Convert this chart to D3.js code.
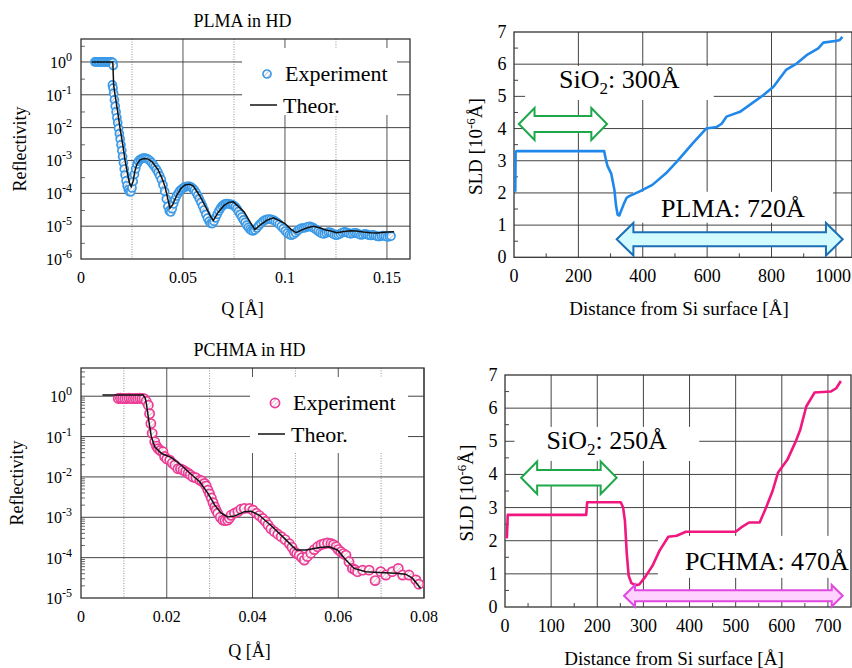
<!DOCTYPE html>
<html>
<head>
<meta charset="utf-8">
<script src="https://cdn.jsdelivr.net/npm/d3@7"></script>
<style>
  body { margin: 0; background: #fff; }
  svg { display: block; font-family: "Liberation Serif", "Times New Roman", serif; }
</style>
</head>
<body>
<script>
// Reflectivity curves (PLMA / PCHMA in HD) and the fitted SLD profiles

// ---- PLMA reflectivity ----
var plmaTheoQ = [0.0052, 0.0156, 0.0160, 0.0167, 0.0180, 0.0191, 0.0205, 0.0216, 0.0228, 0.0238,
  0.0246, 0.0255, 0.0265, 0.0275, 0.0290, 0.0310, 0.0330, 0.0350, 0.0379, 0.0400,
  0.0412, 0.0425, 0.0436, 0.0450, 0.0470, 0.0490, 0.0510, 0.0531, 0.0550, 0.0580,
  0.0610, 0.0635, 0.0649, 0.0670, 0.0700, 0.0725, 0.0747, 0.0775, 0.0800, 0.0830,
  0.0853, 0.0880, 0.0910, 0.0943, 0.0970, 0.1000, 0.1030, 0.1055, 0.1080, 0.1110,
  0.1139, 0.1170, 0.1200, 0.1225, 0.1253, 0.1290, 0.1320, 0.1350, 0.1384, 0.1420,
  0.1450, 0.1500, 0.1535];
var plmaTheoR = [1.0, 1.0, 0.2, 0.1, 0.03, 0.01, 3.0e-3, 1.0e-3, 4.0e-4, 2.0e-4,
  1.6e-4, 2.3e-4, 5.0e-4, 7.9e-4, 1.05e-3, 1.15e-3, 1.1e-3, 8.9e-4, 5.1e-4, 2.6e-4,
  1.6e-4, 7.0e-5, 3.5e-5, 4.6e-5, 8.9e-5, 1.4e-4, 1.8e-4, 1.9e-4, 1.7e-4, 8.9e-5,
  4.0e-5, 2.0e-5, 1.5e-5, 2.5e-5, 4.2e-5, 5.3e-5, 5.5e-5, 3.8e-5, 2.7e-5, 1.3e-5,
  7.9e-6, 1.1e-5, 1.5e-5, 1.8e-5, 1.5e-5, 1.2e-5, 8.0e-6, 6.3e-6, 7.6e-6, 8.9e-6,
  1.0e-5, 8.9e-6, 7.6e-6, 7.1e-6, 6.3e-6, 6.9e-6, 7.2e-6, 7.1e-6, 6.6e-6, 6.3e-6,
  6.2e-6, 6.6e-6, 6.8e-6];

var plmaExpQ = [0.0068, 0.0075, 0.0083, 0.0090, 0.0098, 0.0105, 0.0113, 0.0120, 0.0128, 0.0135,
  0.0143, 0.0150, 0.0156, 0.0158, 0.0154, 0.0157, 0.0160, 0.0164, 0.0168, 0.0172,
  0.0176, 0.0180, 0.0184, 0.0188, 0.0192, 0.0196, 0.0200, 0.0204, 0.0208, 0.0212,
  0.0216, 0.0221, 0.0226, 0.0232, 0.0238, 0.0244, 0.0250, 0.0256, 0.0262, 0.0268,
  0.0275, 0.0282, 0.0290, 0.0298, 0.0306, 0.0314, 0.0322, 0.0330, 0.0338, 0.0346,
  0.0354, 0.0362, 0.0370, 0.0378, 0.0386, 0.0394, 0.0402, 0.0410, 0.0418, 0.0426,
  0.0433, 0.0440, 0.0447, 0.0454, 0.0461, 0.0468, 0.0476, 0.0484, 0.0492, 0.0500,
  0.0508, 0.0516, 0.0524, 0.0532, 0.0540, 0.0548, 0.0556, 0.0564, 0.0572, 0.0580,
  0.0588, 0.0596, 0.0604, 0.0612, 0.0620, 0.0628, 0.0636, 0.0644, 0.0652, 0.0660,
  0.0668, 0.0676, 0.0684, 0.0692, 0.0700, 0.0708, 0.0716, 0.0724, 0.0732, 0.0740,
  0.0748, 0.0756, 0.0764, 0.0772, 0.0780, 0.0788, 0.0796, 0.0804, 0.0812, 0.0820,
  0.0828, 0.0836, 0.0844, 0.0852, 0.0862, 0.0872, 0.0882, 0.0892, 0.0902, 0.0912,
  0.0922, 0.0932, 0.0942, 0.0952, 0.0962, 0.0972, 0.0982, 0.0992, 0.1002, 0.1012,
  0.1022, 0.1032, 0.1042, 0.1052, 0.1062, 0.1072, 0.1082, 0.1092, 0.1102, 0.1112,
  0.1122, 0.1132, 0.1142, 0.1152, 0.1162, 0.1172, 0.1182, 0.1192, 0.1202, 0.1212,
  0.1222, 0.1232, 0.1242, 0.1252, 0.1262, 0.1272, 0.1282, 0.1292, 0.1302, 0.1312,
  0.1322, 0.1332, 0.1342, 0.1352, 0.1362, 0.1372, 0.1382, 0.1392, 0.1402, 0.1412,
  0.1422, 0.1432, 0.1442, 0.1452, 0.1462, 0.1472, 0.1482, 0.1492, 0.1502, 0.1512,
  0.1520];
var plmaExpR = [1.0, 1.0, 1.0, 1.0, 1.0, 1.0, 1.0, 1.0, 1.0, 1.0,
  1.0, 1.0, 0.95, 0.78, 0.2, 0.16, 0.11, 0.07, 0.045, 0.03,
  0.02, 0.014, 9.5e-3, 6.5e-3, 4.5e-3, 3.0e-3, 2.0e-3, 1.3e-3, 8.5e-4, 5.5e-4,
  3.6e-4, 2.4e-4, 1.7e-4, 1.3e-4, 1.12e-4, 1.12e-4, 1.45e-4, 2.3e-4, 3.8e-4, 5.6e-4,
  7.8e-4, 9.5e-4, 1.07e-3, 1.14e-3, 1.18e-3, 1.18e-3, 1.14e-3, 1.08e-3, 9.8e-4, 8.6e-4,
  7.4e-4, 6.3e-4, 5.3e-4, 4.3e-4, 3.4e-4, 2.6e-4, 1.8e-4, 1.15e-4, 6.8e-5, 4.0e-5,
  2.9e-5, 2.7e-5, 3.4e-5, 4.8e-5, 6.5e-5, 8.3e-5, 1.0e-4, 1.18e-4, 1.32e-4, 1.44e-4,
  1.54e-4, 1.6e-4, 1.63e-4, 1.62e-4, 1.55e-4, 1.42e-4, 1.25e-4, 1.05e-4, 8.5e-5, 6.8e-5,
  5.3e-5, 4.1e-5, 3.1e-5, 2.3e-5, 1.75e-5, 1.4e-5, 1.22e-5, 1.2e-5, 1.4e-5, 1.8e-5,
  2.3e-5, 2.9e-5, 3.5e-5, 4.1e-5, 4.5e-5, 4.8e-5, 4.9e-5, 4.8e-5, 4.6e-5, 4.5e-5,
  4.3e-5, 3.9e-5, 3.4e-5, 2.8e-5, 2.3e-5, 1.9e-5, 1.55e-5, 1.3e-5, 1.08e-5, 9.2e-6,
  8.0e-6, 7.3e-6, 7.2e-6, 7.7e-6, 8.8e-6, 1.05e-5, 1.22e-5, 1.4e-5, 1.54e-5, 1.62e-5,
  1.65e-5, 1.62e-5, 1.54e-5, 1.42e-5, 1.28e-5, 1.13e-5, 9.8e-6, 8.4e-6, 7.1e-6, 6.1e-6,
  5.5e-6, 5.3e-6, 5.6e-6, 6.3e-6, 7.2e-6, 8.1e-6, 8.7e-6, 8.8e-6, 9.1e-6, 9.6e-6,
  9.8e-6, 9.4e-6, 8.7e-6, 7.9e-6, 7.1e-6, 6.4e-6, 5.9e-6, 5.8e-6, 6.2e-6, 6.6e-6,
  6.5e-6, 6.0e-6, 5.5e-6, 5.3e-6, 5.5e-6, 5.9e-6, 6.4e-6, 6.7e-6, 6.5e-6, 6.1e-6,
  5.8e-6, 6.0e-6, 6.3e-6, 6.1e-6, 5.7e-6, 5.4e-6, 5.5e-6, 5.8e-6, 5.6e-6, 5.3e-6,
  5.2e-6, 5.4e-6, 5.2e-6, 4.9e-6, 4.8e-6, 5.0e-6, 5.2e-6, 4.9e-6, 4.7e-6, 4.8e-6,
  5.0e-6];

// ---- PCHMA reflectivity ----
var pchmaTheoQ = [0.0050, 0.0145, 0.0150, 0.0153, 0.0158, 0.0164, 0.0172, 0.0188, 0.0211, 0.0234,
  0.0254, 0.0277, 0.0296, 0.0312, 0.0327, 0.0342, 0.0358, 0.0381, 0.0397, 0.0416,
  0.0447, 0.0478, 0.0502, 0.0525, 0.0556, 0.0579, 0.0598, 0.0618, 0.0637, 0.0664,
  0.0695, 0.0734, 0.0757, 0.0773, 0.0792];
var pchmaTheoR = [1.07, 1.07, 0.89, 0.6, 0.25, 0.1, 0.056, 0.038, 0.03, 0.0195,
  0.0123, 7.6e-3, 3.9e-3, 2.0e-3, 1.26e-3, 1.02e-3, 1.07e-3, 1.38e-3, 1.41e-3, 1.12e-3,
  5.75e-4, 2.75e-4, 1.55e-4, 1.55e-4, 1.78e-4, 1.86e-4, 1.55e-4, 8.7e-5, 5.4e-5, 4.5e-5,
  4.3e-5, 4.1e-5, 3.9e-5, 3.1e-5, 1.74e-5];

var pchmaExpQ = [0.0087, 0.0092, 0.0097, 0.0102, 0.0107, 0.0112, 0.0117, 0.0122, 0.0127, 0.0132,
  0.0137, 0.0142, 0.0147, 0.0152, 0.0157, 0.0160, 0.0163, 0.0166, 0.0172, 0.0176,
  0.0180, 0.0185, 0.0191, 0.0195, 0.0200, 0.0207, 0.0213, 0.0219, 0.0226, 0.0232,
  0.0238, 0.0244, 0.0250, 0.0255, 0.0261, 0.0268, 0.0277, 0.0282, 0.0288, 0.0292,
  0.0296, 0.0300, 0.0304, 0.0308, 0.0312, 0.0315, 0.0319, 0.0325, 0.0331, 0.0336,
  0.0342, 0.0346, 0.0350, 0.0358, 0.0366, 0.0373, 0.0381, 0.0393, 0.0401, 0.0409,
  0.0416, 0.0424, 0.0430, 0.0436, 0.0443, 0.0451, 0.0459, 0.0467, 0.0476, 0.0486,
  0.0492, 0.0498, 0.0503, 0.0509, 0.0515, 0.0521, 0.0528, 0.0536, 0.0544, 0.0552,
  0.0560, 0.0567, 0.0575, 0.0583, 0.0589, 0.0595, 0.0600, 0.0606, 0.0612, 0.0618,
  0.0625, 0.0633, 0.0639, 0.0645, 0.0657, 0.0672, 0.0686, 0.0699, 0.0711, 0.0726,
  0.0740, 0.0750, 0.0765, 0.0781, 0.0788];
var pchmaExpR = [0.88, 0.89, 0.88, 0.87, 0.88, 0.89, 0.88, 0.87, 0.88, 0.88,
  0.89, 0.88, 0.87, 0.75, 0.6, 0.37, 0.21, 0.12, 0.074, 0.058,
  0.05, 0.045, 0.042, 0.032, 0.028, 0.026, 0.022, 0.0195, 0.016, 0.0158,
  0.0148, 0.0135, 0.0123, 0.0112, 0.010, 9.5e-3, 8.3e-3, 7.9e-3, 6.9e-3, 6.0e-3,
  4.7e-3, 3.8e-3, 3.0e-3, 2.3e-3, 1.8e-3, 1.5e-3, 1.26e-3, 1.0e-3, 8.5e-4, 8.3e-4,
  8.5e-4, 9.5e-4, 1.12e-3, 1.26e-3, 1.38e-3, 1.58e-3, 1.66e-3, 1.66e-3, 1.5e-3, 1.26e-3,
  1.1e-3, 9.3e-4, 7.9e-4, 6.5e-4, 5.2e-4, 4.4e-4, 3.8e-4, 3.3e-4, 2.8e-4, 2.2e-4,
  1.8e-4, 1.4e-4, 1.26e-4, 1.15e-4, 1.0e-4, 8.7e-5, 1.07e-4, 1.29e-4, 1.58e-4, 1.86e-4,
  2.1e-4, 2.2e-4, 2.3e-4, 2.24e-4, 2.1e-4, 1.86e-4, 1.58e-4, 1.4e-4, 1.26e-4, 1.15e-4,
  7.9e-5, 5.4e-5, 5.0e-5, 4.5e-5, 4.9e-5, 4.9e-5, 2.7e-5, 4.5e-5, 3.7e-5, 4.5e-5,
  5.4e-5, 3.7e-5, 3.7e-5, 2.8e-5, 2.2e-5];

// ---- SLD profiles (distance [A], SLD [1e-6 A^-2]) ----
var plmaSldZ = [4, 5, 8, 280, 284, 290, 302, 312, 317, 322,
  327, 333, 342, 350, 358, 389, 430, 472, 506, 555,
  597, 630, 645, 660, 702, 775, 806, 845, 878, 909,
  945, 961, 1003, 1012, 1020];
var plmaSldV = [2.04, 3.28, 3.3, 3.3, 3.1, 2.85, 2.6, 2.09, 1.6, 1.32,
  1.3, 1.45, 1.68, 1.85, 1.9, 2.04, 2.25, 2.61, 2.97, 3.54,
  4.0, 4.05, 4.15, 4.37, 4.52, 5.04, 5.3, 5.82, 6.02, 6.28,
  6.49, 6.67, 6.73, 6.75, 6.85];

var pchmaSldZ = [4, 6, 176, 178, 251, 256, 260, 264, 268, 274,
  283, 291, 304, 320, 335, 354, 372, 392, 500, 512,
  529, 552, 566, 580, 592, 612, 630, 640, 653, 671,
  706, 718, 728];
var pchmaSldV = [2.07, 2.78, 2.78, 3.16, 3.16, 3.0, 2.6, 1.6, 0.95, 0.72,
  0.66, 0.68, 0.91, 1.25, 1.7, 2.12, 2.15, 2.27, 2.27, 2.4,
  2.55, 2.55, 3.0, 3.5, 4.06, 4.44, 4.99, 5.35, 6.05, 6.47,
  6.5, 6.6, 6.82];

// ---- ticks ----
var plmaQTicks = [0, 0.05, 0.1, 0.15];
var plmaQLabels = ["0", "0.05", "0.1", "0.15"];
var plmaQMinor = [0.025, 0.075, 0.125];
var plmaDecades = [0, -1, -2, -3, -4, -5, -6];

var pchmaQTicks = [0, 0.02, 0.04, 0.06, 0.08];
var pchmaQLabels = ["0", "0.02", "0.04", "0.06", "0.08"];
var pchmaQMinor = [0.01, 0.03, 0.05, 0.07];
var pchmaDecades = [0, -1, -2, -3, -4, -5];

var sldTicks = [0, 1, 2, 3, 4, 5, 6, 7];
var sldMinor = [0.5, 1.5, 2.5, 3.5, 4.5, 5.5, 6.5];
var plmaZTicks = [0, 200, 400, 600, 800, 1000];
var plmaZMinor = [100, 300, 500, 700, 900];
var pchmaZTicks = [0, 100, 200, 300, 400, 500, 600, 700];
var pchmaZMinor = [50, 150, 250, 350, 450, 550, 650];

// ---- annotations (data units) ----
var plmaLayers = [
  {label: "SiO2", thick: "300Å", tx: 140, ty: 5.26, x1: 15, x2: 289, y: 4.14, kind: "oxide"},
  {label: "PLMA", thick: "720Å", tx: 457, ty: 1.26, x1: 319, x2: 1021, y: 0.56, kind: "polymer"}
];
var pchmaLayers = [
  {label: "SiO2", thick: "250Å", tx: 90, ty: 4.77, x1: 35, x2: 242, y: 3.9, kind: "oxide"},
  {label: "PCHMA", thick: "470Å", tx: 390, ty: 1.12, x1: 258, x2: 732, y: 0.34, kind: "polymer"}
];


var svg = d3.select('body').append('svg')
  .attr('width', 852)
  .attr('height', 668);
var defs = svg.append('defs');

function hatch(id, color) {
  var p = defs.append('pattern')
    .attr('id', id)
    .attr('patternUnits', 'userSpaceOnUse')
    .attr('width', 3).attr('height', 3)
    .attr('patternTransform', 'rotate(45)');
  p.append('rect').attr('width', 3).attr('height', 3).attr('fill', '#fff');
  p.append('line').attr('x1', 0).attr('y1', 0).attr('x2', 0).attr('y2', 3)
    .attr('stroke', color).attr('stroke-width', 1.5);
}
hatch('hatchBlue', '#a9b3bd');
hatch('hatchPink', '#d6a9bd');

function sup(sel, base, exp, size) {
  sel.append('tspan').text(base);
  sel.append('tspan').attr('dy', -7).style('font-size', size).text(exp);
  return sel;
}


var ReflPanel = function(o) {
  var x = d3.scaleLinear().domain(o.xDomain).range([o.left, o.right]);
  var y = d3.scaleLog().domain(o.yDomain).range([o.bottom, o.top]);
  var g = svg.append('g');

  g.selectAll('line.xminor').data(o.xMinor).enter().append('line')
    .attr('x1', function(d) { return x(d); })
    .attr('x2', function(d) { return x(d); })
    .attr('y1', o.top).attr('y2', o.bottom)
    .attr('stroke', '#777').attr('stroke-width', 0.8)
    .attr('stroke-dasharray', '1,1.5');

  g.selectAll('line.xgrid').data(o.xTicks.slice(1)).enter().append('line')
    .attr('x1', function(d) { return x(d); })
    .attr('x2', function(d) { return x(d); })
    .attr('y1', o.top).attr('y2', o.bottom)
    .attr('stroke', '#555').attr('stroke-width', 1);

  g.selectAll('line.ygrid').data(o.decades.slice(0, -1)).enter().append('line')
    .attr('x1', o.left).attr('x2', o.right)
    .attr('y1', function(d) { return y(Math.pow(10, d)); })
    .attr('y2', function(d) { return y(Math.pow(10, d)); })
    .attr('stroke', '#444').attr('stroke-width', 1);

  var minors = [];
  o.decades.forEach(function(e) {
    o.minorMult.forEach(function(m) {
      var v = m * Math.pow(10, e);
      if (v < o.yDomain[1]) minors.push(v);
    });
  });
  g.selectAll('line.ymin').data(minors).enter().append('line')
    .attr('x1', o.left).attr('x2', o.left + 4)
    .attr('y1', function(d) { return y(d); })
    .attr('y2', function(d) { return y(d); })
    .attr('stroke', '#444').attr('stroke-width', 0.8);

  // legend box hides the grid behind it
  var lg = o.legend;
  g.append('rect')
    .attr('x', lg.x).attr('y', lg.y).attr('width', lg.w).attr('height', lg.h)
    .attr('fill', '#fff');

  g.append('rect')
    .attr('x', o.left).attr('y', o.top)
    .attr('width', o.right - o.left).attr('height', o.bottom - o.top)
    .attr('fill', 'none').attr('stroke', '#333').attr('stroke-width', 1.3);

  g.selectAll('circle.exp').data(d3.zip(o.expQ, o.expR)).enter().append('circle')
    .attr('cx', function(d) { return x(d[0]); })
    .attr('cy', function(d) { return y(d[1]); })
    .attr('r', o.r)
    .attr('fill', 'url(#' + o.hatch + ')')
    .attr('stroke', o.color).attr('stroke-width', 1.7);

  var line = d3.line()
    .x(function(d) { return x(d[0]); })
    .y(function(d) { return y(d[1]); });
  g.append('path').datum(d3.zip(o.theoQ, o.theoR))
    .attr('d', line)
    .attr('fill', 'none').attr('stroke', '#111').attr('stroke-width', 1.5);

  // legend
  g.append('circle')
    .attr('cx', lg.x + 25).attr('cy', lg.y + 26).attr('r', o.r)
    .attr('fill', 'url(#' + o.hatch + ')')
    .attr('stroke', o.color).attr('stroke-width', 1.7);
  g.append('text').attr('x', lg.x + 43).attr('y', lg.y + 33)
    .style('font-size', '22px').text('Experiment');
  g.append('line')
    .attr('x1', lg.x + 8).attr('x2', lg.x + 35)
    .attr('y1', lg.y + 57).attr('y2', lg.y + 57)
    .attr('stroke', '#111').attr('stroke-width', 1.5);
  g.append('text').attr('x', lg.x + 41).attr('y', lg.y + 65)
    .style('font-size', '22px').text('Theor.');

  // axes text
  g.selectAll('text.xl').data(o.xTicks).enter().append('text')
    .attr('x', function(d) { return x(d); })
    .attr('y', o.bottom + 23.5)
    .attr('text-anchor', 'middle')
    .style('font-size', '16px')
    .text(function(d, i) { return o.xLabels[i]; });

  g.selectAll('text.yl').data(o.decades).enter().append('text')
    .attr('x', o.left - 9)
    .attr('y', function(d) { return y(Math.pow(10, d)) + 6; })
    .attr('text-anchor', 'end')
    .style('font-size', '16px')
    .each(function(d) { sup(d3.select(this), '10', String(d), '12px'); });

  var cx = (o.left + o.right) / 2 - 3;
  g.append('text').attr('x', cx).attr('y', o.top - 12)
    .attr('text-anchor', 'middle').style('font-size', '18px').text(o.title);
  g.append('text').attr('x', cx).attr('y', o.bottom + o.qGap)
    .attr('text-anchor', 'middle').style('font-size', '18px').text('Q [Å]');
  g.append('text')
    .attr('transform', 'translate(' + o.yTitleX + ',' + (o.top + o.bottom) / 2 + ') rotate(-90)')
    .attr('text-anchor', 'middle').style('font-size', '18px').text('Reflectivity');
};


function doubleArrow(g, x1, x2, yc, s) {
  var pts = [[x1, yc], [x1 + s.head, yc - s.headH], [x1 + s.head, yc - s.shaftH],
    [x2 - s.head, yc - s.shaftH], [x2 - s.head, yc - s.headH], [x2, yc],
    [x2 - s.head, yc + s.headH], [x2 - s.head, yc + s.shaftH],
    [x1 + s.head, yc + s.shaftH], [x1 + s.head, yc + s.headH]];
  g.append('polygon')
    .attr('points', pts.map(function(p) { return p.join(','); }).join(' '))
    .attr('fill', s.fill).attr('stroke', s.stroke).attr('stroke-width', s.sw)
    .attr('stroke-linejoin', 'miter');
}

var SldPanel = function(o) {
  var x = d3.scaleLinear().domain(o.xDomain).range([o.left, o.right]);
  var y = d3.scaleLinear().domain([0, 7]).range([o.bottom, o.top]);
  var g = svg.append('g');

  g.selectAll('line.xgrid').data(o.xTicks.slice(1)).enter().append('line')
    .attr('x1', function(d) { return x(d); })
    .attr('x2', function(d) { return x(d); })
    .attr('y1', o.top).attr('y2', o.bottom)
    .attr('stroke', '#444').attr('stroke-width', 1);
  g.selectAll('line.ygrid').data(sldTicks.slice(1, -1)).enter().append('line')
    .attr('x1', o.left).attr('x2', o.right)
    .attr('y1', function(d) { return y(d); })
    .attr('y2', function(d) { return y(d); })
    .attr('stroke', '#444').attr('stroke-width', 1);

  g.selectAll('line.xmin').data(o.xMinor).enter().append('line')
    .attr('x1', function(d) { return x(d); })
    .attr('x2', function(d) { return x(d); })
    .attr('y1', o.bottom).attr('y2', o.bottom - 4)
    .attr('stroke', '#444');
  g.selectAll('line.ymin').data(sldMinor).enter().append('line')
    .attr('x1', o.left).attr('x2', o.left + 4)
    .attr('y1', function(d) { return y(d); })
    .attr('y2', function(d) { return y(d); })
    .attr('stroke', '#444');

  // white text boxes behind the layer labels
  var labels = [];
  o.layers.forEach(function(l) {
    var t = g.append('text')
      .attr('x', x(l.tx)).attr('y', y(l.ty))
      .style('font-size', '26px');
    if (l.label === 'SiO2') {
      t.append('tspan').text('SiO');
      t.append('tspan').attr('dy', 6).style('font-size', '17px').text('2');
      t.append('tspan').attr('dy', -6).text(': ' + l.thick);
    } else {
      t.text(l.label + ': ' + l.thick);
    }
    labels.push(t);
  });
  labels.forEach(function(t, i) {
    var b = t.node().getBBox();
    var pad = o.boxPad[i];
    g.insert('rect', 'text')
      .attr('x', b.x - pad[0]).attr('width', b.width + 2 * pad[0])
      .attr('y', +t.attr('y') - pad[1]).attr('height', pad[1] + pad[2])
      .attr('fill', '#fff');
  });

  g.append('rect')
    .attr('x', o.left).attr('y', o.top)
    .attr('width', o.right - o.left).attr('height', o.bottom - o.top)
    .attr('fill', 'none').attr('stroke', '#333').attr('stroke-width', 1.3);

  var line = d3.line()
    .x(function(d) { return x(d[0]); })
    .y(function(d) { return y(d[1]); });
  g.append('path').datum(d3.zip(o.z, o.v))
    .attr('d', line)
    .attr('fill', 'none').attr('stroke', o.color).attr('stroke-width', 2.6)
    .attr('stroke-linejoin', 'round');

  o.layers.forEach(function(l) {
    doubleArrow(g, x(l.x1), x(l.x2), y(l.y), o.arrows[l.kind]);
  });
  labels.forEach(function(t) { t.raise(); });

  g.selectAll('text.xl').data(o.xTicks).enter().append('text')
    .attr('x', function(d) { return x(d); })
    .attr('y', o.bottom + 24.7)
    .attr('text-anchor', 'middle')
    .style('font-size', '18px')
    .text(function(d) { return d; })
    .each(function() {
      // keep the last label inside the page
      var b = this.getBBox();
      if (b.x + b.width > 851) {
        d3.select(this).attr('text-anchor', 'end').attr('x', 851);
      }
    });
  g.selectAll('text.yl').data(sldTicks).enter().append('text')
    .attr('x', o.left - 7.5)
    .attr('y', function(d) { return y(d) + 6; })
    .attr('text-anchor', 'end')
    .style('font-size', '18px')
    .text(function(d) { return d; });

  g.append('text')
    .attr('x', (o.left + o.right) / 2 - 4).attr('y', o.bottom + 58)
    .attr('text-anchor', 'middle').style('font-size', '19px')
    .text('Distance from Si surface [Å]');
  var yt = g.append('text')
    .attr('transform', 'translate(' + (o.left - 32) + ',' + ((o.top + o.bottom) / 2 + 2) + ') rotate(-90)')
    .attr('text-anchor', 'middle').style('font-size', '19px');
  yt.append('tspan').text('SLD [10');
  yt.append('tspan').attr('dy', -7).style('font-size', '13px').text('-6');
  yt.append('tspan').attr('dy', 7).text('Å]');
};


ReflPanel({
  left: 81, right: 410, top: 39, bottom: 259,
  xDomain: [0, 0.1613], yDomain: [1e-6, 5],
  xTicks: plmaQTicks, xLabels: plmaQLabels, xMinor: plmaQMinor,
  decades: plmaDecades, minorMult: [3],
  theoQ: plmaTheoQ, theoR: plmaTheoR, expQ: plmaExpQ, expR: plmaExpR,
  r: 4, color: '#3a9ae8', hatch: 'hatchBlue',
  legend: {x: 242, y: 48, w: 155, h: 67},
  title: 'PLMA in HD', qGap: 56, yTitleX: 26
});

ReflPanel({
  left: 81, right: 424, top: 368, bottom: 598,
  xDomain: [0, 0.08], yDomain: [1e-5, 5],
  xTicks: pchmaQTicks, xLabels: pchmaQLabels, xMinor: pchmaQMinor,
  decades: pchmaDecades, minorMult: [2, 3, 4, 5, 6, 7, 8, 9],
  theoQ: pchmaTheoQ, theoR: pchmaTheoR, expQ: pchmaExpQ, expR: pchmaExpR,
  r: 4.6, color: '#ec3c96', hatch: 'hatchPink',
  legend: {x: 250, y: 377, w: 158, h: 76},
  title: 'PCHMA in HD', qGap: 58.7, yTitleX: 23
});

var arrowStyles = {
  top: {
    oxide: {head: 15.7, headH: 16, shaftH: 8, fill: '#fff', stroke: '#1fa84a', sw: 2},
    polymer: {head: 16.7, headH: 16.3, shaftH: 7, fill: '#d2fbff', stroke: '#1b6fb5', sw: 2}
  },
  bottom: {
    oxide: {head: 16, headH: 16.3, shaftH: 7.7, fill: '#fff', stroke: '#1fa84a', sw: 2},
    polymer: {head: 11, headH: 10.8, shaftH: 5.5, fill: '#ffd2ff', stroke: '#e048e0', sw: 2}
  }
};

SldPanel({
  left: 514, right: 852, top: 32, bottom: 257.3,
  xDomain: [0, 1050], xTicks: plmaZTicks, xMinor: plmaZMinor,
  z: plmaSldZ, v: plmaSldV, color: '#1f88ea',
  layers: plmaLayers, arrows: arrowStyles.top,
  boxPad: [[34, 22, 12], [28, 25, 6]]
});

SldPanel({
  left: 505, right: 851, top: 375, bottom: 607,
  xDomain: [0, 750], xTicks: pchmaZTicks, xMinor: pchmaZMinor,
  z: pchmaSldZ, v: pchmaSldV, color: '#f0177f',
  layers: pchmaLayers, arrows: arrowStyles.bottom,
  boxPad: [[32, 22, 12], [27, 34, 8]]
});
</script>
</body>
</html>
